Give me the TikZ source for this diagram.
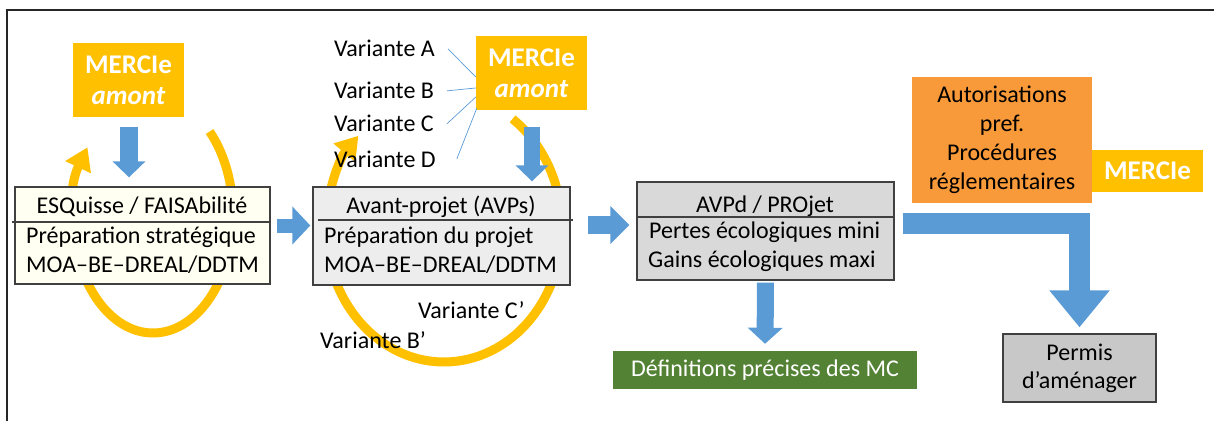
\documentclass[tikz,border=0pt]{standalone}
\usepackage{fontspec}
\setmainfont{Carlito}
\usetikzlibrary{arrows.meta,calc}
\definecolor{gold}{HTML}{FFC000}
\definecolor{bluea}{HTML}{5B9BD5}
\definecolor{ivory}{RGB}{255,255,242}
\definecolor{lgray}{HTML}{EDEDED}
\definecolor{mgray}{HTML}{D9D9D9}
\definecolor{dgray}{HTML}{C8C8C8}
\definecolor{greenb}{HTML}{548235}
\definecolor{orangeb}{HTML}{F99A3A}
\definecolor{edge}{HTML}{404040}
\begin{document}
\begin{tikzpicture}[x=1pt,y=1pt,
  txt/.style={inner sep=0pt, font=\fontsize{24}{29}\selectfont},
  stagebox/.style={draw=edge, line width=1.3pt, inner sep=0pt},
  mercbox/.style={fill=gold, text=white, inner sep=0pt, align=center, font=\fontsize{27}{31}\selectfont\bfseries},
  loopline/.style={draw=gold, line width=9pt, -{Triangle[width=27pt,length=22pt]}},
  varline/.style={draw=bluea, line width=0.7pt},
  sepline/.style={draw=edge, line width=1.1pt},
]
\useasboundingbox (0,0) rectangle (1214,421);
\draw[line width=1.3pt, black!85] (7,0) -- (7,411) -- (1214,411);

% yellow loops
\draw[loopline] (153,206) ++(45:80 and 118) arc[start angle=45, end angle=-215, x radius=80, y radius=118];
\draw[loopline] (444,193) ++(54.5:118 and 134) arc[start angle=54.5, end angle=-223.5, x radius=118, y radius=134];

% MERCIe boxes
\node[mercbox, minimum width=111pt, minimum height=74pt] (m1) at (128.5,341) {MERCIe\\\textit{amont}};
\node[mercbox, minimum width=111pt, minimum height=74pt] (m2) at (531.5,348) {MERCIe\\\textit{amont}};
\node[mercbox, minimum width=111pt, minimum height=42pt] (m3) at (1147.5,250) {MERCIe};

% stage boxes
\node[stagebox, fill=ivory, minimum width=255pt, minimum height=97pt] (b1) at (142.5,185.5) {};
\draw[sepline] (12,199) -- (270,199);
\node[txt, anchor=base] (b1t) at (142,208) {ESQuisse / FAISAbilité};
\node[txt, anchor=base west] (b1a) at (26,178) {Préparation stratégique};
\node[txt, anchor=base west] (b1b) at (26,149) {MOA–BE–DREAL/DDTM};

\node[stagebox, fill=lgray, minimum width=257pt, minimum height=98pt] (b2) at (441.5,185) {};
\draw[sepline] (318,201) -- (573,201);
\node[txt, anchor=base] (b2t) at (441,208) {Avant-projet (AVPs)};
\node[txt, anchor=base west] (b2a) at (324,178) {Préparation du projet};
\node[txt, anchor=base west] (b2b) at (324,149) {MOA–BE–DREAL/DDTM};

\node[stagebox, fill=mgray, minimum width=257pt, minimum height=98pt] (b3) at (765.5,190) {};
\draw[sepline] (637,204) -- (894,204);
\node[txt, anchor=base] (b3t) at (765,209) {AVPd / PROjet};
\node[txt, anchor=base west] (b3a) at (649,183) {Pertes écologiques mini};
\node[txt, anchor=base west] (b3b) at (648,154) {Gains écologiques maxi};

% variants
\node[txt, anchor=base west] (vA) at (334,364) {Variante A};
\node[txt, anchor=base west] (vB) at (334,322) {Variante B};
\node[txt, anchor=base west] (vC) at (334,289) {Variante C};
\node[txt, anchor=base west] (vD) at (334,254) {Variante D};
\node[txt, anchor=base west] (vC2) at (418,103) {Variante C’};
\node[txt, anchor=base west] (vB2) at (320,73) {Variante B’};
\draw[varline] ([xshift=13pt]vA.east) -- ([yshift=-4pt]m2.west);
\draw[varline] ([xshift=13pt]vB.east) -- ([yshift=-15pt]m2.west);
\draw[varline] ([xshift=13pt]vC.east) -- ([yshift=-24pt]m2.west);
\draw[varline] ([xshift=21pt]vD.east) -- ([xshift=1pt,yshift=2pt]m2.south west);

% right-hand boxes
\node[txt, fill=orangeb, minimum width=180pt, minimum height=126pt, align=center] (o) at (1002,281) {Autorisations\\pref.\\Procédures\\réglementaires};
\node[txt, fill=greenb, text=white, minimum width=304pt, minimum height=38pt] (g) at (765,51) {Définitions précises des MC};
\node[txt, stagebox, fill=dgray, minimum width=153pt, minimum height=68pt, align=center, font=\fontsize{24}{28}\selectfont] (p) at (1079.5,53) {Permis\\d’aménager};

% blue block arrows
\draw[bluea, line width=18pt, -{Triangle[width=32pt,length=16pt]}, shorten <=10pt, shorten >=9pt] ([xshift=0.5pt]m1.south) -- ([xshift=0.5pt]m1.south |- b1.north);
\draw[bluea, line width=16pt, -{Triangle[width=32pt,length=16pt]}, shorten <=17pt, shorten >=5pt] ([xshift=0.5pt]m2.south) -- ([xshift=0.5pt]m2.south |- b2.north);
\draw[bluea, line width=14pt, -{Triangle[width=37pt,length=18pt]}, shorten <=6pt, shorten >=2pt] ([yshift=10pt]b1.east) -- ([yshift=10pt]b1.east -| b2.west);
\draw[bluea, line width=18pt, -{Triangle[width=37pt,length=19pt]}, shorten <=17pt, shorten >=7pt] ([yshift=11pt]b2.east) -- ([yshift=11pt]b2.east -| b3.west);
\draw[bluea, line width=17pt, -{Triangle[width=34pt,length=16pt]}, shorten <=2pt, shorten >=7pt] (b3.south) -- (g.north);
\draw[bluea, line width=21pt, -{Triangle[width=58pt,length=37pt]}, shorten >=6pt] ([xshift=8pt,yshift=7.5pt]b3.east) -| (p.north);
\end{tikzpicture}
\end{document}
